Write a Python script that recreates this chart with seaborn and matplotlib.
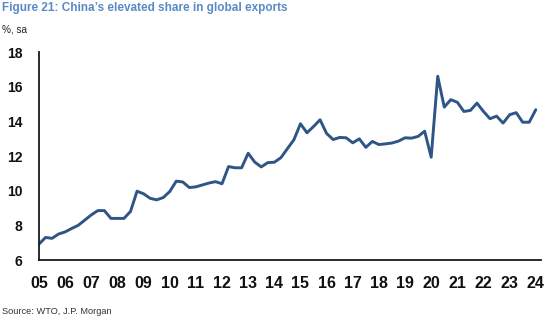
import matplotlib
matplotlib.use("Agg")
import matplotlib.pyplot as plt
from matplotlib import font_manager
import numpy as np
import pandas as pd
import seaborn as sns

# ---- data (quarterly, 2005Q1 .. 2024Q1), % share, sa ----
start_year = 2005
share = [
    6.92, 7.30, 7.25, 7.50, 7.62, 7.82, 8.00, 8.30, 8.60, 8.85,
    8.85, 8.40, 8.40, 8.40, 8.80, 9.97, 9.82, 9.56, 9.47, 9.60,
    9.95, 10.55, 10.50, 10.18, 10.22, 10.33, 10.44, 10.52, 10.40, 11.39,
    11.32, 11.32, 12.16, 11.65, 11.37, 11.62, 11.64, 11.90, 12.42, 12.94,
    13.86, 13.34, 13.70, 14.09, 13.30, 12.95, 13.07, 13.05, 12.76, 12.99,
    12.50, 12.84, 12.66, 12.70, 12.75, 12.86, 13.05, 13.03, 13.13, 13.43,
    11.93, 16.60, 14.82, 15.25, 15.10, 14.57, 14.63, 15.05, 14.57, 14.15,
    14.30, 13.90, 14.38, 14.50, 13.95, 13.95, 14.67,
]
year_ticks = list(range(2005, 2025))
year_labels = [f"{y % 100:02d}" for y in year_ticks]
y_ticks = [6, 8, 10, 12, 14, 16, 18]

title = "Figure 21: China\u2019s elevated share in global exports"
unit = "%, sa"
source = "Source: WTO, J.P. Morgan"

df = pd.DataFrame({
    "t": [start_year + i / 4 for i in range(len(share))],
    "share": share,
})

sns.set_theme(style="white")
avail = {f.name for f in font_manager.fontManager.ttflist}
if "Liberation Sans Narrow" in avail:
    narrow = ["Liberation Sans Narrow", "DejaVu Sans"]
    scale = 1.0
else:
    narrow = ["Liberation Sans", "DejaVu Sans"]
    scale = 0.85
regular = ["Liberation Sans", "DejaVu Sans"]
plt.rcParams["font.family"] = regular

fig = plt.figure(figsize=(5.46, 3.21), dpi=100)
ax = fig.add_axes([39 / 546, 61 / 321, 502 / 546, 208 / 321])

sns.lineplot(data=df, x="t", y="share", ax=ax, color="#2f5486", linewidth=2.1)

ax.set_xlim(2005, 2024.2)
ax.set_ylim(6, 18)
ax.set_xticks(year_ticks)
ax.set_xticklabels(year_labels)
ax.set_yticks(y_ticks)
ax.set_xlabel("")
ax.set_ylabel("")

for s in ["top", "right"]:
    ax.spines[s].set_visible(False)
for s in ["left", "bottom"]:
    ax.spines[s].set_color("#1a1a1a")
    ax.spines[s].set_linewidth(1.3)

ax.tick_params(axis="both", direction="out", length=3.6, width=1.3,
               color="#1a1a1a", labelcolor="#111111")
ax.tick_params(axis="x", pad=8.2, labelsize=11.5)
ax.tick_params(axis="y", pad=8.2, labelsize=10)
for lab in ax.get_xticklabels() + ax.get_yticklabels():
    lab.set_fontweight("bold")

fig.text(2 / 546, 1 - 8 / 321, title, ha="left", va="center",
         fontsize=10 * scale, fontweight="bold", color="#5a8ac6",
         family=narrow)
fig.text(2 / 546, 1 - 29 / 321, unit, ha="left", va="center",
         fontsize=8.5 * scale, color="#222222", family=narrow)
fig.text(2 / 546, 1 - 312 / 321, source, ha="left", va="center",
         fontsize=7.8 * scale, color="#333333", family=narrow)

fig.savefig("out.png", dpi=100)
